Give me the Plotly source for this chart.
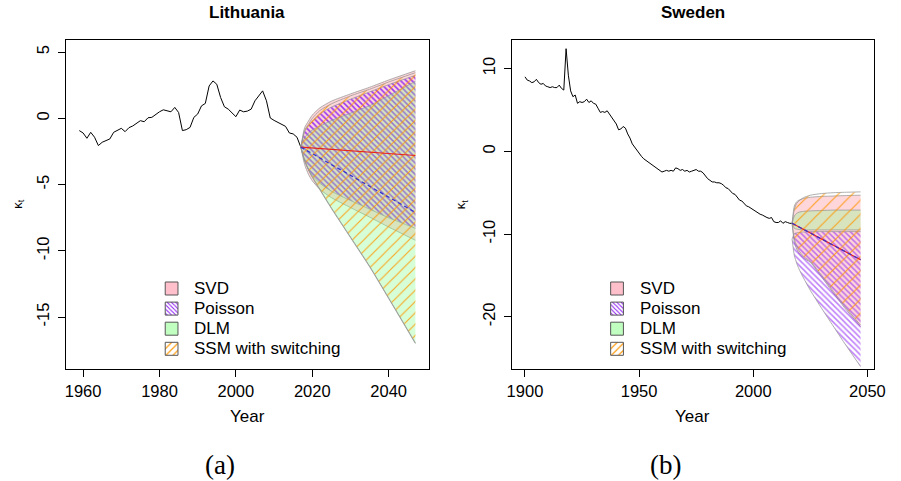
import plotly.graph_objects as go

W, H = 901, 481
SANS = "Liberation Sans, Arial, sans-serif"
SERIF = "Liberation Serif, Times New Roman, serif"

# ---------------- Lithuania: estimated kappa_t ----------------
lt_years = list(range(1959, 2018))
lt_kappa = [-0.92, -1.10, -1.50, -1.05, -1.42, -2.05, -1.80, -1.65, -1.55, -1.05,
            -0.90, -0.75, -1.00, -0.70, -0.57, -0.35, -0.17, -0.25, 0.05, 0.08,
            0.30, 0.50, 0.65, 0.60, 0.50, 0.83, 0.45, -0.92, -0.85, -0.68,
            0.08, 0.33, 0.95, 1.13, 2.45, 2.83, 2.58, 1.58, 0.88, 0.70,
            0.40, 0.13, 0.63, 0.50, 0.55, 0.70, 1.33, 1.70, 2.08, 1.33,
            0.03, -0.15, -0.30, -0.50, -0.60, -1.10, -1.17, -1.42, -2.17]

# ---------------- Sweden: estimated kappa_t ----------------
se_years = list(range(1900, 2018))
se_kappa = [9.0, 8.6, 8.5, 8.3, 8.4, 8.7, 8.3, 8.1, 8.2, 7.9,
            7.8, 7.7, 7.8, 7.7, 7.7, 8.0, 7.6, 7.4, 12.4, 9.2,
            7.3, 6.6, 6.8, 5.8, 6.0, 5.9, 6.0, 6.3, 5.9, 6.1,
            5.8, 5.7, 5.2, 4.7, 4.8, 4.7, 4.9, 4.5, 4.1, 3.7,
            3.3, 2.6, 2.7, 3.0, 2.8, 2.1, 1.6, 0.9, 0.5, 0.1,
            -0.3, -0.6, -0.9, -1.1, -1.3, -1.4, -1.6, -1.9, -2.1, -2.2,
            -2.5, -2.4, -2.3, -2.4, -2.3, -2.4, -2.0, -2.1, -2.3, -2.2,
            -2.4, -2.3, -2.5, -2.4, -2.3, -2.2, -2.4, -2.4, -2.6, -3.0,
            -3.3, -3.5, -3.7, -3.7, -3.8, -3.8, -3.9, -4.1, -4.4, -4.5,
            -4.8, -5.1, -5.2, -5.6, -5.9, -6.0, -6.3, -6.6, -6.7, -6.9,
            -7.1, -7.2, -7.4, -7.6, -7.7, -7.9, -8.0, -8.1, -8.0, -8.5,
            -8.6, -8.6, -8.4, -8.7, -8.5, -8.6, -8.7, -8.7]

# ---------------- forecasts, 2017-2047 ----------------
fc_years = [2017, 2018, 2019, 2020, 2022, 2025, 2030, 2035, 2040, 2047]

lt_svd_hi = [-2.17, -0.70, -0.20, 0.25, 0.80, 1.30, 1.85, 2.35, 2.90, 3.60]
lt_svd_lo = [-2.17, -3.48, -4.22, -4.71, -5.36, -5.98, -6.73, -7.45, -8.20, -9.20]
lt_poi_hi = [-2.17, -1.00, -0.55, -0.20, 0.35, 0.85, 1.45, 2.00, 2.55, 3.25]
lt_poi_lo = [-2.17, -3.20, -3.85, -4.30, -4.90, -5.50, -6.20, -6.85, -7.50, -8.30]
lt_dlm_hi = [-2.17, -1.47, -1.10, -0.87, -0.58, -0.16, 0.40, 0.96, 1.72, 2.80]
lt_dlm_lo = [-2.17, -3.20, -3.90, -4.45, -5.40, -6.80, -9.00, -11.20, -13.60, -17.00]
lt_ssm_hi = [-2.17, -0.90, -0.45, 0.00, 0.60, 1.10, 1.70, 2.20, 2.75, 3.45]
lt_ssm_lo = [-2.17, -3.15, -3.85, -4.40, -5.35, -6.75, -8.95, -11.15, -13.55, -16.95]
lt_fc_red = [-2.17, -2.19, -2.21, -2.23, -2.28, -2.34, -2.44, -2.55, -2.65, -2.80]
lt_fc_blue = [-2.17, -2.33, -2.50, -2.66, -2.99, -3.48, -4.30, -5.12, -5.94, -7.10]

se_svd_hi = [-8.7, -6.6, -6.1, -5.9, -5.7, -5.55, -5.45, -5.4, -5.35, -5.3]
se_svd_lo = [-8.7, -11.0, -11.8, -12.3, -12.9, -13.4, -15.2, -17.1, -18.9, -21.2]
se_poi_hi = [-10.6, -9.95, -9.85, -9.8, -9.75, -9.7, -9.7, -9.7, -9.7, -9.7]
se_poi_lo = [-10.6, -12.6, -13.5, -14.2, -15.3, -16.8, -19.0, -21.1, -23.2, -26.0]
se_dlm_hi = [-8.7, -7.8, -7.5, -7.35, -7.25, -7.2, -7.15, -7.1, -7.1, -7.1]
se_dlm_lo = [-8.7, -9.3, -9.4, -9.45, -9.5, -9.5, -9.5, -9.5, -9.5, -9.5]
se_ssm_hi = [-8.7, -7.0, -6.3, -6.0, -5.6, -5.3, -5.1, -5.0, -4.95, -4.9]
se_ssm_lo = [-8.7, -10.6, -11.4, -12.0, -12.7, -13.3, -15.0, -16.9, -18.7, -21.0]
se_fc_red = [-8.7, -8.85, -9.0, -9.14, -9.43, -9.87, -10.6, -11.33, -12.07, -13.1]
se_fc_blue = [-8.7, -8.85, -9.0, -9.14, -9.43, -9.87, -10.6, -11.33, -12.07, -13.1]

method_names = ["SVD", "Poisson", "DLM", "SSM with switching"]

lt_xticks = [1960, 1980, 2000, 2020, 2040]
lt_yticks = [-15, -10, -5, 0, 5]
se_xticks = [1900, 1950, 2000, 2050]
se_yticks = [-20, -10, 0, 10]

# ---------------- styles ----------------
EDGE = "rgba(150,150,150,0.75)"
PINK_FILL = "rgba(255,120,130,0.30)"
GREEN_FILL = "rgba(140,255,140,0.35)"
PURPLE = "#9428F5"
ORANGE = "#FF9500"
NOFILL = "rgba(0,0,0,0)"

fig = go.Figure()


def add_band(xa, ya, years, hi, lo, fillcolor, pattern=None):
    fig.add_trace(go.Scatter(x=years, y=hi, mode="lines", xaxis=xa, yaxis=ya,
                             line=dict(color=EDGE, width=1, shape="spline", smoothing=0.6),
                             showlegend=False, hoverinfo="skip"))
    kw = {}
    if pattern is not None:
        kw["fillpattern"] = pattern
    fig.add_trace(go.Scatter(x=years, y=lo, mode="lines", xaxis=xa, yaxis=ya,
                             fill="tonexty", fillcolor=fillcolor,
                             line=dict(color=EDGE, width=1, shape="spline", smoothing=0.6),
                             showlegend=False, hoverinfo="skip", **kw))


def panel(xa, ya, years, kappa, bands, red, blue, purple_size, purple_opacity, orange_size):
    fig.add_trace(go.Scatter(x=years, y=kappa, mode="lines", xaxis=xa, yaxis=ya,
                             line=dict(color="black", width=1), showlegend=False))
    svd, poi, dlm, ssm = bands
    add_band(xa, ya, fc_years, svd[0], svd[1], PINK_FILL)
    add_band(xa, ya, fc_years, poi[0], poi[1], NOFILL,
             dict(shape="\\", size=purple_size, solidity=0.38, fgcolor=PURPLE,
                  fgopacity=purple_opacity, fillmode="replace", bgcolor=NOFILL))
    add_band(xa, ya, fc_years, dlm[0], dlm[1], GREEN_FILL)
    add_band(xa, ya, fc_years, ssm[0], ssm[1], NOFILL,
             dict(shape="/", size=orange_size, solidity=1.1 / orange_size, fgcolor=ORANGE,
                  fgopacity=0.85, fillmode="replace", bgcolor=NOFILL))
    fig.add_trace(go.Scatter(x=fc_years, y=red, mode="lines", xaxis=xa, yaxis=ya,
                             line=dict(color="#E8231E", width=1.2), showlegend=False))
    fig.add_trace(go.Scatter(x=fc_years, y=blue, mode="lines", xaxis=xa, yaxis=ya,
                             line=dict(color="#3232D2", width=1.2, dash="4px,3px"),
                             showlegend=False))


panel("x", "y", lt_years, lt_kappa,
      [(lt_svd_hi, lt_svd_lo), (lt_poi_hi, lt_poi_lo), (lt_dlm_hi, lt_dlm_lo), (lt_ssm_hi, lt_ssm_lo)],
      lt_fc_red, lt_fc_blue, 4, 0.95, 8)
panel("x2", "y2", se_years, se_kappa,
      [(se_svd_hi, se_svd_lo), (se_poi_hi, se_poi_lo), (se_dlm_hi, se_dlm_lo), (se_ssm_hi, se_ssm_lo)],
      se_fc_red, se_fc_blue, 4, 0.6, 10)

# ---------------- legend keys (pixel coordinates on an overlay axis) ----------------
key_styles = [
    dict(fillcolor="#FFC0CB"),
    dict(fillcolor="white", fillpattern=dict(shape="\\", size=3, solidity=0.35, fgcolor=PURPLE,
                                             bgcolor="white", fillmode="replace")),
    dict(fillcolor="#C1FFC1"),
    dict(fillcolor="white", fillpattern=dict(shape="/", size=5, solidity=0.22, fgcolor=ORANGE,
                                             bgcolor="white", fillmode="replace")),
]
legend_left = [163.3, 617.3]      # left edge of key boxes in each panel (px)
legend_text_x = [191.0, 645.0]
row_y = [288.5, 308.6, 328.7, 348.8]
KEY = 13.0

annotations = []
for p in range(2):
    for i, name in enumerate(method_names):
        x0, x1 = legend_left[p], legend_left[p] + KEY
        y0, y1 = row_y[i] - KEY / 2, row_y[i] + KEY / 2
        fig.add_trace(go.Scatter(x=[x0, x1, x1, x0, x0], y=[y0, y0, y1, y1, y0],
                                 mode="lines", fill="toself", xaxis="x3", yaxis="y3",
                                 line=dict(color="#555555", width=1), showlegend=False,
                                 hoverinfo="skip", **key_styles[i]))
        annotations.append(dict(text=name, x=legend_text_x[p] / W, y=1 - row_y[i] / H,
                                xref="paper", yref="paper", xanchor="left", yanchor="middle",
                                showarrow=False, font=dict(family=SANS, size=17, color="black")))

# ---------------- axes ----------------
ydom = [1 - 369 / H, 1 - 40 / H]
axis_common = dict(showline=True, mirror=True, linecolor="black", linewidth=1,
                   ticks="outside", ticklen=7, tickwidth=1, tickcolor="black",
                   showgrid=False, zeroline=False,
                   tickfont=dict(family=SANS, size=16.5, color="black"))


def labels(vals):
    return [str(v) for v in vals]


fig.update_layout(
    width=W, height=H,
    margin=dict(l=0, r=0, t=0, b=0),
    paper_bgcolor="white", plot_bgcolor="rgba(0,0,0,0)",
    showlegend=False,
    xaxis=dict(domain=[62 / W, 432 / W], range=[1955.48, 2050.52], anchor="y",
               tickvals=lt_xticks, ticktext=labels(lt_xticks), **axis_common),
    yaxis=dict(domain=ydom, range=[-18.92, 5.92], anchor="x",
               tickvals=lt_yticks, ticktext=labels(lt_yticks), tickangle=-90,
               ticklabelstandoff=2, **axis_common),
    xaxis2=dict(domain=[516.3 / W, 885.7 / W], range=[1894.12, 2052.88], anchor="y2",
                tickvals=se_xticks, ticktext=labels(se_xticks), **axis_common),
    yaxis2=dict(domain=ydom, range=[-26.3, 13.45], anchor="x2",
                tickvals=se_yticks, ticktext=labels(se_yticks), tickangle=-90,
                ticklabelstandoff=2, **axis_common),
    xaxis3=dict(domain=[0, 1], range=[0, W], anchor="y3", visible=False, fixedrange=True),
    yaxis3=dict(domain=[0, 1], range=[H, 0], anchor="x3", visible=False, fixedrange=True),
)

# titles, axis labels and panel captions
for cx, title, cap_x, cap in [(247, "Lithuania", 219, "(a)"), (701, "Sweden", 673, "(b)")]:
    annotations.append(dict(text="<b>%s</b>" % title, x=cx / W, y=1 - 13 / H, xref="paper", yref="paper",
                            xanchor="center", yanchor="middle", showarrow=False,
                            font=dict(family=SANS, size=17, color="black")))
    annotations.append(dict(text="Year", x=cx / W, y=1 - 416 / H, xref="paper", yref="paper",
                            xanchor="center", yanchor="middle", showarrow=False,
                            font=dict(family=SANS, size=17, color="black")))
    annotations.append(dict(text=cap, x=cap_x / W, y=1 - 465 / H, xref="paper", yref="paper",
                            xanchor="center", yanchor="middle", showarrow=False,
                            font=dict(family=SERIF, size=27, color="black")))
for kx in [13, 465]:
    annotations.append(dict(text="κ<sub>t</sub>", x=kx / W, y=1 - 204 / H, xref="paper", yref="paper",
                            xanchor="center", yanchor="middle", showarrow=False, textangle=-90,
                            font=dict(family=SANS, size=13, color="black")))

fig.update_layout(annotations=annotations)
fig.write_html("out.html")
